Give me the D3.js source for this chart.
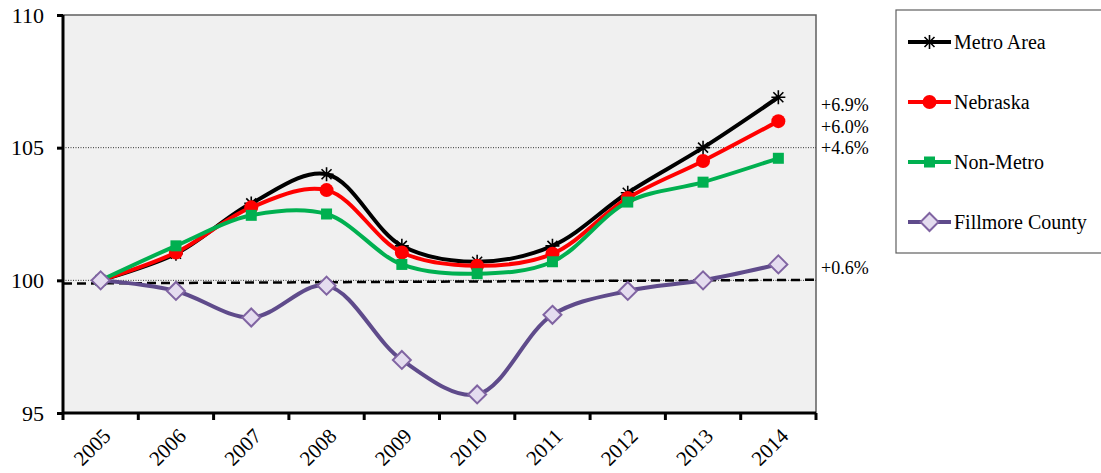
<!DOCTYPE html>
<meta charset="utf-8">
<head>
<title>Index 2005=100</title>
<script src="https://cdn.jsdelivr.net/npm/d3@7"></script>
<style>
body { margin:0; background:#fff; }
text { font-family:"Liberation Serif","DejaVu Serif",serif; }
</style>
</head>
<body>
<svg id=mySVG width=1101 height=473></svg>
<script>
// ---- data ----
var years=["2005","2006","2007","2008","2009","2010","2011","2012","2013","2014"]
var seriesNames=["Metro Area","Nebraska","Non-Metro","Fillmore County"]
var metroVals=[100,101.0,102.9,104.0,101.3,100.7,101.3,103.3,105.0,106.9]
var nebraskaVals=[100,101.05,102.75,103.4,101.05,100.55,101.0,103.1,104.5,106.0]
var nonMetroVals=[100,101.3,102.45,102.5,100.6,100.25,100.7,102.95,103.7,104.6]
var fillmoreVals=[100,99.6,98.6,99.8,97.0,95.7,98.7,99.6,100.0,100.6]
var changeLabels=["+6.9%","+6.0%","+4.6%","+0.6%"]
var yTicks=[95,100,105,110]
var baseline=[99.88,100.02]   // dashed reference line, left and right end

var svg=d3.select("#mySVG")
var plotL=63, plotT=15, plotR=816, plotB=413
var serif="Liberation Serif"

var x=d3.scaleBand().domain(years).range([plotL,plotR])
var y=d3.scaleLinear().domain([95,110]).range([plotB,plotT])
function cx(d){ return x(d)+x.bandwidth()/2 }

//---plot area---
svg.append("rect")
 .attr("x",plotL).attr("y",plotT)
 .attr("width",plotR-plotL).attr("height",plotB-plotT)
 .attr("fill","#f0f0f0")
 .attr("stroke","#5f5f5f").attr("stroke-width",1.5)

//---dotted grid lines---
svg.selectAll(".grid").data([100,105]).enter().append("line")
 .attr("x1",plotL).attr("x2",plotR)
 .attr("y1",d=>y(d)).attr("y2",d=>y(d))
 .attr("stroke","#000").attr("stroke-width",0.8)
 .attr("stroke-dasharray","1,1.5")

//---dashed baseline---
svg.append("line")
 .attr("x1",plotL).attr("x2",plotR)
 .attr("y1",y(baseline[0])).attr("y2",y(baseline[1]))
 .attr("stroke","#000").attr("stroke-width",2.5)
 .attr("stroke-dasharray","9,5")

//---axes---
var yAxis=svg.append("g")
 .attr("transform","translate("+plotL+",0)")
 .call(d3.axisLeft(y).tickValues(yTicks).tickSize(6).tickFormat(d3.format("d")))
yAxis.attr("font-family",serif)
yAxis.select(".domain").attr("stroke-width",3).attr("d","M0,"+plotT+"V"+plotB)
yAxis.selectAll(".tick line").attr("stroke-width",3)
yAxis.selectAll(".tick text")
 .attr("font-size",22).attr("x",-19).attr("dy","0.33em")
 .attr("font-family",serif)

var xAxis=svg.append("g")
 .attr("transform","translate(0,"+plotB+")")
 .call(d3.axisBottom(x).tickSize(0).tickFormat(""))
xAxis.attr("font-family",serif)
xAxis.select(".domain").attr("stroke-width",3).attr("d","M"+plotL+",0H"+plotR)
// tick marks at category boundaries
xAxis.selectAll(".bound").data(years.concat(["end"])).enter().append("line")
 .attr("x1",(d,i)=>plotL+i*x.step()).attr("x2",(d,i)=>plotL+i*x.step())
 .attr("y1",0).attr("y2",7)
 .attr("stroke","#000").attr("stroke-width",3)
xAxis.selectAll(".yl").data(years).enter().append("text")
 .text(d=>d)
 .attr("transform",d=>"translate("+(cx(d)+1)+",14) rotate(-45)")
 .attr("text-anchor","end")
 .attr("dy","0.7em")
 .attr("font-size",21)
 .attr("font-family",serif)
 .attr("fill","#000")

//---series---
var allSeries=[
 {name:seriesNames[0],vals:metroVals,color:"#000000",marker:"star"},
 {name:seriesNames[1],vals:nebraskaVals,color:"#ff0000",marker:"circle"},
 {name:seriesNames[2],vals:nonMetroVals,color:"#00b050",marker:"square"},
 {name:seriesNames[3],vals:fillmoreVals,color:"#5f4b8b",marker:"diamond"}
]

var line=d3.line().x(d=>cx(d.year)).y(d=>y(d.v)).curve(d3.curveCatmullRom.alpha(0.5))

function drawMarker(g,type,color){
 if(type=="star"){
  g.append("path").attr("d","M-7,0H7M0,-7V7M-5,-5L5,5M-5,5L5,-5")
   .attr("stroke",color).attr("stroke-width",1.6).attr("fill","none")
 } else if(type=="circle"){
  g.append("circle").attr("r",7).attr("fill",color)
 } else if(type=="square"){
  g.append("rect").attr("x",-5.5).attr("y",-5.5).attr("width",11).attr("height",11).attr("fill",color)
 } else {
  g.append("path").attr("d","M0,-9L9,0L0,9L-9,0Z")
   .attr("fill","#e4dcef").attr("stroke","#8064a2").attr("stroke-width",2)
 }
}

// series drawn in legend order, Fillmore ends up on top
allSeries.forEach(function(s){
 var pts=s.vals.map((v,i)=>({year:years[i],v:v}))
 svg.append("path").datum(pts)
  .attr("d",line)
  .attr("fill","none")
  .attr("stroke",s.color)
  .attr("stroke-width",4)
 pts.forEach(function(p){
  var g=svg.append("g").attr("transform","translate("+cx(p.year)+","+y(p.v)+")")
  drawMarker(g,s.marker,s.color)
 })
})

//---change labels---
var labelY=[105,127,148,268]
svg.selectAll(".chg").data(changeLabels).enter().append("text")
 .text(d=>d)
 .attr("x",821)
 .attr("y",(d,i)=>labelY[i])
 .attr("dy","0.35em")
 .attr("font-size",18)
 .attr("font-family",serif)

//---legend---
svg.append("rect")
 .attr("x",896).attr("y",10).attr("width",206).attr("height",243)
 .attr("fill","#fff").attr("stroke","#5f5f5f").attr("stroke-width",1.2)

allSeries.forEach(function(s,i){
 var ly=42+i*60
 svg.append("line")
  .attr("x1",908).attr("x2",951).attr("y1",ly).attr("y2",ly)
  .attr("stroke",s.color).attr("stroke-width",4)
 var g=svg.append("g").attr("transform","translate(929.5,"+ly+")")
 drawMarker(g,s.marker,s.color)
 svg.append("text").text(s.name)
  .attr("x",954).attr("y",ly).attr("dy","0.35em")
  .attr("font-size",20)
  .attr("font-family",serif)
})
</script>
</body>
